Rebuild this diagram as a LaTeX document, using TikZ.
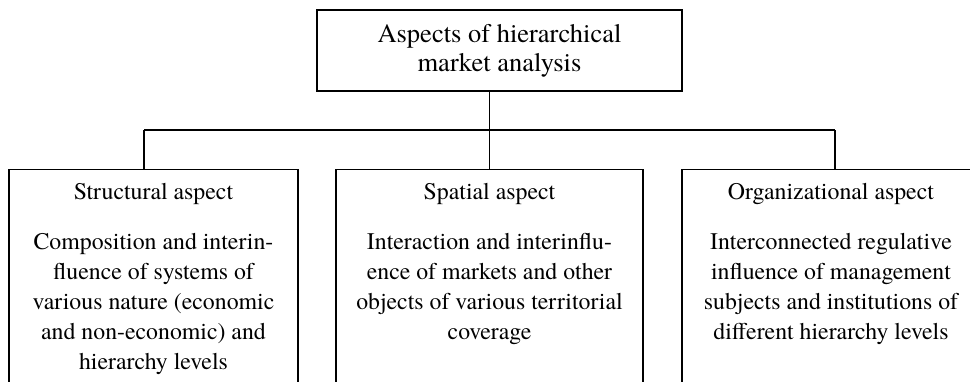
\documentclass[tikz,border=0pt]{standalone}
\usepackage{fontspec}
\setmainfont{texgyretermes}[Extension=.otf, UprightFont=*-regular, BoldFont=*-bold]
\usetikzlibrary{positioning, calc}

\begin{document}
\begin{tikzpicture}[x=1pt, y=1pt,
    wire/.style={draw, line width=1.3pt},
    heading/.style={rectangle, draw, line width=1.3pt, align=center, minimum width=365pt, minimum height=81pt, font=\fontsize{26.5}{29}\selectfont},
    aspect/.style={rectangle, draw, line width=1.3pt, anchor=north, minimum width=#1, minimum height=260pt, inner sep=0pt},
    aspectText/.style={align=center, inner sep=0pt, font=\fontsize{23.8}{30}\selectfont}]

  \useasboundingbox (0,0) rectangle (970,-381);

  \node[heading] (root) at (499.5,-50.5) {Aspects of hierarchical\\market analysis};

  \node[aspect=289pt] (structural) at (153.5,-169) {};
  \node[aspect=307pt] (spatial) at (489.5,-169) {};
  \node[aspect=298pt] (organizational) at (831,-169) {};

  \node[aspectText, below=14pt of structural.north] (structuralText) {Structural aspect\\[20pt]Composition and interin-\\fluence of systems of\\various nature (economic\\and non-economic) and\\hierarchy levels};
  \node[aspectText, below=14pt of spatial.north] (spatialText) {Spatial aspect\\[20pt]Interaction and interinflu-\\ence of markets and other\\objects of various territorial\\coverage};
  \node[aspectText, below=14pt of organizational.north] (organizationalText) {Organizational aspect\\[20pt]Interconnected regulative\\influence of management\\subjects and institutions of\\different hierarchy levels};

  % bus between heading and aspects
  \coordinate (busL) at (144,-130);
  \coordinate (busR) at (835,-130);
  \draw[wire] (busL) -- (busR);
  \draw[wire] (root.south -| spatial.north) -- (spatial.north);
  \draw[wire] (busL) -- (busL |- structural.north);
  \draw[wire] (busR) -- (busR |- organizational.north);

\end{tikzpicture}
\end{document}
